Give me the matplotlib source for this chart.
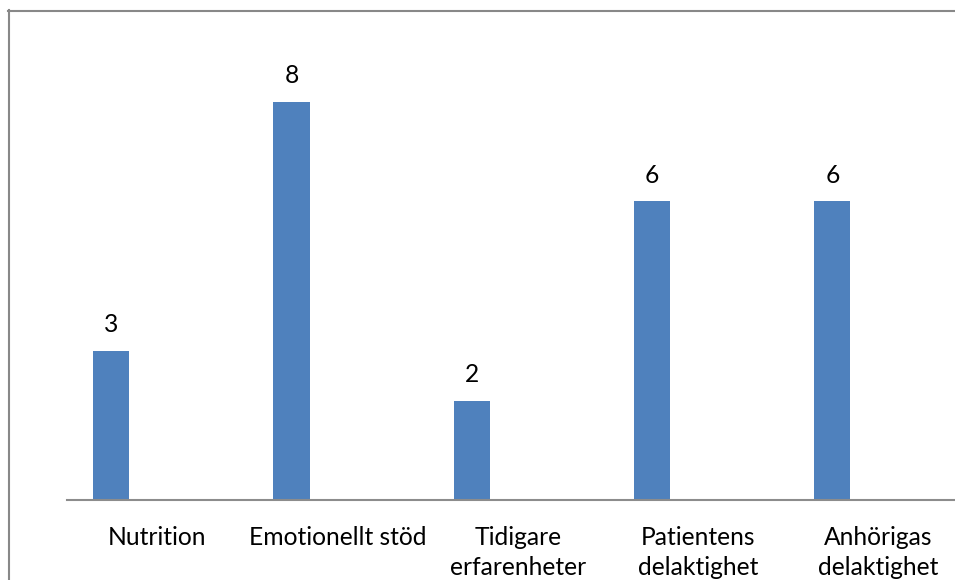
import numpy as np
import matplotlib.pyplot as plt
from matplotlib.lines import Line2D

categories = ['Nutrition', 'Emotionellt stöd', 'Tidigare\nerfarenheter',
              'Patientens\ndelaktighet', 'Anhörigas\ndelaktighet']
values = [3, 8, 2, 6, 6]

plt.rcParams['font.family'] = ['Lato', 'DejaVu Sans']

W, H = 955, 580
fig = plt.figure(figsize=(W / 100, H / 100), dpi=100)

# plot area: baseline at y=500 px, left at x=67 px, cropped at right edge
left, base, top = 67, 500, 10
ax = fig.add_axes([left / W, 1 - base / H, (W - left) / W, (base - top) / H])

slot = 180.3
x = np.arange(len(categories))
ax.bar(x - 0.255, values, width=0.2, color='#4f81bd')
ax.set_xlim(-0.5, -0.5 + (W - left) / slot)
ax.set_ylim(0, (base - top) / 49.75)

for xi, v in zip(x, values):
    ax.text(xi - 0.255, v + 0.3, str(v), ha='center', va='bottom',
            fontsize=17.7, color='black')

for xi, lab in zip(x, categories):
    ax.text(xi, -0.52, lab, ha='center', va='top', fontsize=17.7,
            linespacing=1.35, color='black')

for s in ['top', 'right', 'left']:
    ax.spines[s].set_visible(False)
ax.spines['bottom'].set_color('#8c8c8c')
ax.spines['bottom'].set_linewidth(1.5)
ax.set_xticks([])
ax.set_yticks([])

# outer chart border (left and top edges visible)
fig.add_artist(Line2D([8.5 / W, 8.5 / W], [0, 1 - 10 / H], color='#888888',
                      lw=1.5, transform=fig.transFigure))
fig.add_artist(Line2D([8 / W, 1], [1 - 10.5 / H, 1 - 10.5 / H], color='#888888',
                      lw=1.5, transform=fig.transFigure))

fig.savefig('out.png', dpi=100)
